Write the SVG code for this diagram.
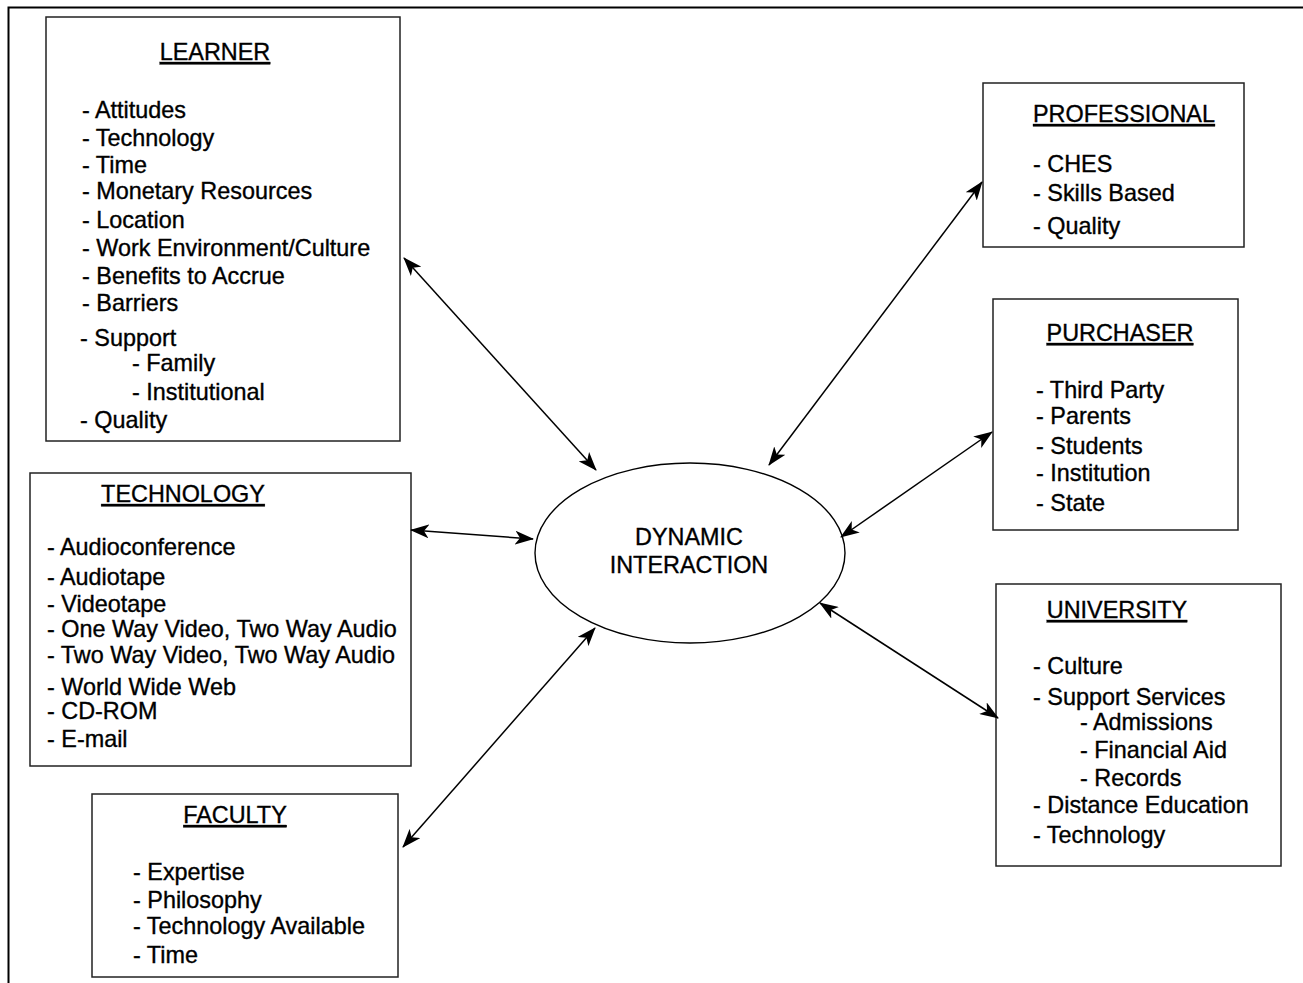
<svg xmlns="http://www.w3.org/2000/svg" width="1303" height="983" viewBox="0 0 1303 983">
<style>
text{font-family:"Liberation Sans",Arial,Helvetica,sans-serif;font-size:23.4px;fill:#000;stroke:#000;stroke-width:0.35px}
.t{text-decoration:underline}
.box{fill:#fff;stroke:#222;stroke-width:1.5}
.c{stroke:#000;stroke-width:1.5;fill:none;marker-start:url(#ah);marker-end:url(#ah)}
</style>
<defs>
<marker id="ah" viewBox="0 0 19 14" refX="18" refY="7" markerWidth="19" markerHeight="14" markerUnits="userSpaceOnUse" orient="auto-start-reverse">
<path d="M0,0 L19,7 L0,14 L5,7 Z" fill="#000"/>
</marker>
</defs>
<rect width="1303" height="983" fill="#fff"/>
<path d="M8.5,983 V7.5 H1303" fill="none" stroke="#000" stroke-width="2"/>

<g id="learner">
<rect class="box" x="46" y="17" width="354" height="424"/>
<text class="t" x="215" y="60" text-anchor="middle">LEARNER</text>
<text x="82" y="118">- Attitudes</text>
<text x="82" y="146">- Technology</text>
<text x="82" y="173">- Time</text>
<text x="82" y="199">- Monetary Resources</text>
<text x="82" y="228">- Location</text>
<text x="82" y="256">- Work Environment/Culture</text>
<text x="82" y="284">- Benefits to Accrue</text>
<text x="82" y="311">- Barriers</text>
<text x="80" y="346">- Support</text>
<text x="132" y="371">- Family</text>
<text x="132" y="400">- Institutional</text>
<text x="80" y="428">- Quality</text>
</g>

<g id="technology">
<rect class="box" x="30" y="473" width="381" height="293"/>
<text class="t" x="183" y="502" text-anchor="middle">TECHNOLOGY</text>
<text x="47" y="555">- Audioconference</text>
<text x="47" y="585">- Audiotape</text>
<text x="47" y="612">- Videotape</text>
<text x="47" y="637">- One Way Video, Two Way Audio</text>
<text x="47" y="663">- Two Way Video, Two Way Audio</text>
<text x="47" y="695">- World Wide Web</text>
<text x="47" y="719">- CD-ROM</text>
<text x="47" y="747">- E-mail</text>
</g>

<g id="faculty">
<rect class="box" x="92" y="794" width="306" height="183"/>
<text class="t" x="235" y="823" text-anchor="middle">FACULTY</text>
<text x="133" y="880">- Expertise</text>
<text x="133" y="908">- Philosophy</text>
<text x="133" y="934">- Technology Available</text>
<text x="133" y="963">- Time</text>
</g>

<g id="professional">
<rect class="box" x="983" y="83" width="261" height="164"/>
<text class="t" x="1124" y="122" text-anchor="middle">PROFESSIONAL</text>
<text x="1033" y="172">- CHES</text>
<text x="1033" y="201">- Skills Based</text>
<text x="1033" y="234">- Quality</text>
</g>

<g id="purchaser">
<rect class="box" x="993" y="299" width="245" height="231"/>
<text class="t" x="1120" y="341" text-anchor="middle">PURCHASER</text>
<text x="1036" y="398">- Third Party</text>
<text x="1036" y="424">- Parents</text>
<text x="1036" y="454">- Students</text>
<text x="1036" y="481">- Institution</text>
<text x="1036" y="511">- State</text>
</g>

<g id="university">
<rect class="box" x="996" y="584" width="285" height="282"/>
<text class="t" x="1117" y="618" text-anchor="middle">UNIVERSITY</text>
<text x="1033" y="674">- Culture</text>
<text x="1033" y="705">- Support Services</text>
<text x="1080" y="730">- Admissions</text>
<text x="1080" y="758">- Financial Aid</text>
<text x="1080" y="786">- Records</text>
<text x="1033" y="813">- Distance Education</text>
<text x="1033" y="843">- Technology</text>
</g>

<g id="dynamic-interaction">
<ellipse cx="690" cy="553" rx="155" ry="90" fill="#fff" stroke="#000" stroke-width="1.4"/>
<text x="689" y="545" text-anchor="middle">DYNAMIC</text>
<text x="689" y="573" text-anchor="middle">INTERACTION</text>
</g>

<g id="connectors">
<line class="c" x1="404" y1="258" x2="596" y2="470"/>
<line class="c" x1="411" y1="530" x2="533" y2="539"/>
<line class="c" x1="403" y1="847" x2="595" y2="628"/>
<line class="c" x1="982" y1="182" x2="769" y2="465"/>
<line class="c" x1="992" y1="432" x2="841" y2="537"/>
<line class="c" x1="820" y1="603" x2="998" y2="718"/>
</g>
</svg>
